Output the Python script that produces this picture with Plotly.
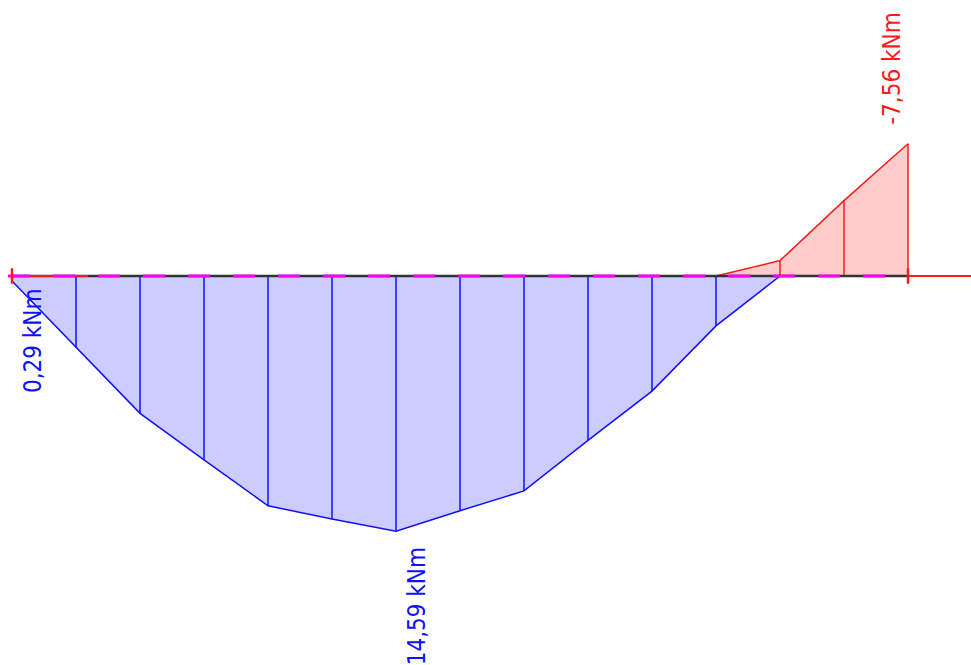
import plotly.graph_objects as go

# Bending moment diagram data (kNm), positive = sagging (drawn below axis)
pos_x = [0.0, 0.5, 1.0, 1.5, 2.0, 2.5, 3.0, 3.5, 4.0, 4.5, 5.0, 5.5, 6.0]
pos_m = [0.29, 4.08, 7.85, 10.51, 13.13, 13.89, 14.59, 13.41, 12.28, 9.39, 6.58, 2.85, 0.0]
neg_x = [5.5, 6.0, 6.5, 7.0]
neg_m = [0.0, -0.88, -4.31, -7.56]

beam_x = [0.0, 7.0]
left_red_x = [-0.03, 0.594]
right_red_x = [7.0, 7.5]
dash_x = [-0.03, 6.83]

labels = ["0,29 kNm", "14,59 kNm", "-7,56 kNm"]

BLUE = "#1010ff"
BLUE_FILL = "rgba(204,204,255,1)"
RED = "#ff1a1a"
RED_FILL = "rgba(255,204,204,1)"
FONT = "Liberation Sans Narrow, DejaVu Sans Condensed, sans-serif"

fig = go.Figure()

# fills
fig.add_trace(go.Scatter(x=[pos_x[0]] + pos_x + [pos_x[-1]], y=[0] + pos_m + [0],
                         fill="toself", fillcolor=BLUE_FILL, mode="none", hoverinfo="skip"))
fig.add_trace(go.Scatter(x=neg_x + [neg_x[-1]], y=neg_m + [0],
                         fill="toself", fillcolor=RED_FILL, mode="none", hoverinfo="skip"))

# verticals
vx, vy = [], []
for x, m in zip(pos_x[1:-1], pos_m[1:-1]):
    vx += [x, x, None]
    vy += [0, m, None]
fig.add_trace(go.Scatter(x=vx, y=vy, mode="lines", line=dict(color=BLUE, width=1.5), hoverinfo="skip"))
rx, ry = [], []
for x, m in zip(neg_x[1:], neg_m[1:]):
    rx += [x, x, None]
    ry += [0, m, None]
fig.add_trace(go.Scatter(x=rx, y=ry, mode="lines", line=dict(color=RED, width=1.5), hoverinfo="skip"))

# outlines
fig.add_trace(go.Scatter(x=pos_x, y=pos_m, mode="lines", line=dict(color=BLUE, width=1.5), hoverinfo="skip"))
fig.add_trace(go.Scatter(x=neg_x, y=neg_m, mode="lines", line=dict(color=RED, width=1.5), hoverinfo="skip"))

# beam axis
fig.add_trace(go.Scatter(x=beam_x, y=[0, 0], mode="lines", line=dict(color="#333333", width=2.5), hoverinfo="skip"))
fig.add_trace(go.Scatter(x=left_red_x, y=[0, 0], mode="lines", line=dict(color=RED, width=2), hoverinfo="skip"))
fig.add_trace(go.Scatter(x=right_red_x, y=[0, 0], mode="lines", line=dict(color=RED, width=2), hoverinfo="skip"))
fig.add_trace(go.Scatter(x=dash_x, y=[0, 0], mode="lines",
                         line=dict(color="#ff00ff", width=3, dash="22px,23px"), hoverinfo="skip"))
fig.add_trace(go.Scatter(x=beam_x, y=[0, 0], mode="markers",
                         marker=dict(symbol="line-ns-open", size=11, color=RED, line=dict(color=RED, width=2.5)),
                         hoverinfo="skip"))

# labels
fig.add_annotation(x=pos_x[0], y=pos_m[0], text=labels[0], showarrow=False, textangle=-90,
                   xshift=21, yshift=-60, font=dict(family=FONT, size=24, color=BLUE))
imax = pos_m.index(max(pos_m))
fig.add_annotation(x=pos_x[imax], y=pos_m[imax], text=labels[1], showarrow=False, textangle=-90,
                   xshift=21, yshift=-75, font=dict(family=FONT, size=24, color=BLUE))
fig.add_annotation(x=neg_x[-1], y=neg_m[-1], text=labels[2], showarrow=False, textangle=-90,
                   xshift=-16, yshift=75, font=dict(family=FONT, size=24, color=RED))

k = 17.5
fig.update_layout(
    width=971, height=665, margin=dict(l=0, r=0, t=0, b=0),
    paper_bgcolor="white", plot_bgcolor="white", showlegend=False,
    xaxis=dict(range=[-12 / 128, 959 / 128], visible=False, fixedrange=True),
    yaxis=dict(range=[(665 - 276) / k, -276 / k], visible=False, fixedrange=True),
)
fig.write_html("out.html", config={"displayModeBar": False},
               post_script="document.body.style.margin='0';document.body.style.overflow='hidden';")
